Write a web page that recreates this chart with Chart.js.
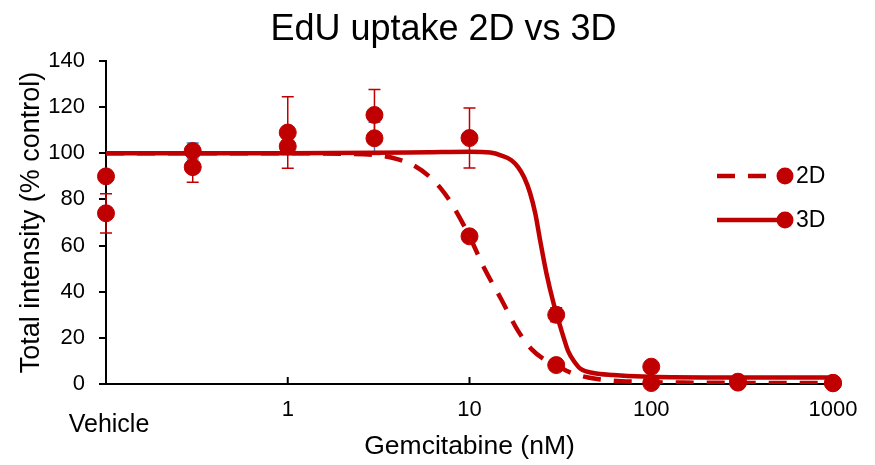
<!DOCTYPE html>
<html><head><meta charset="utf-8">
<script src="https://cdn.jsdelivr.net/npm/chart.js@4"></script>
<style>html,body{margin:0;padding:0;background:#fff}canvas{display:block}</style>
</head><body><canvas id="c" width="875" height="465" style="width:875px;height:465px"></canvas>
<script>
// ---- data ----
const chartTitle = 'EdU uptake 2D vs 3D';
const doses = [0.1, 0.3, 1, 3, 10, 30, 100, 300, 1000];
const xTickValues = [0.1, 1, 10, 100, 1000];
const vehicleLabel = 'Vehicle';
const seriesNames = ['2D', '3D'];
const d2Values = [90, 101, 103, 106.5, 64, 8.2, 0.4, 0.6, 0.3];
const d2Errors = [2, 3.5, 3.5, 7, 2, 1.5, 0.5, 0.5, 0.3];
const d3Values = [74, 94, 109, 116.6, 106.6, 30, 7.5, 1, 0.5];
const d3Errors = [8.5, 6.5, 15.5, 11, 13, 3, 1, 0.5, 0.3];
const fit2dX = [0.1, 1, 2, 3, 4, 5, 6, 7, 8, 10, 12, 15, 18.5, 22, 26, 30, 37, 45, 57, 80, 150, 1000];
const fit2dY = [100, 100, 99.8, 99.3, 97.5, 94.5, 90, 84.5, 78, 64, 50.5, 36.5, 23, 15, 10.5, 8, 4.6, 2.8, 1.7, 1.0, 0.6, 0.4];
const fit3dX = [0.1, 1, 3, 6, 10, 13, 15, 17, 18.5, 20, 21.5, 23, 24.5, 26.5, 29, 31, 33, 35, 37.5, 41, 48, 62, 90, 200, 1000];
const fit3dY = [100, 100, 100.2, 100.5, 100.7, 100.3, 99, 97, 94, 89.5, 83, 74, 62, 48, 35, 27, 20, 14, 10, 6.5, 4.8, 3.9, 3.2, 2.8, 2.8];

const RED = '#C00000';
const BLUE = '#3A80D2';
const FONT = 'Liberation Sans, Arial, sans-serif';
Chart.defaults.font.family = FONT;
Chart.defaults.color = '#000';

const pts = (xs, ys) => xs.map((x, i) => ({x: x, y: ys[i]}));

const extras = {
  id: 'extras',
  beforeDatasetsDraw(chart) {
    const {ctx, scales: {x, y}, chartArea} = chart;
    ctx.save();
    const bars = [[d2Values, d2Errors, BLUE], [d3Values, d3Errors, RED]];
    bars.forEach(([vals, errs, col]) => {
      ctx.strokeStyle = col; ctx.lineWidth = 1.5;
      doses.forEach((d, i) => {
        const px = x.getPixelForValue(d);
        const yt = y.getPixelForValue(vals[i] + errs[i]);
        const yb = y.getPixelForValue(Math.max(0, vals[i] - errs[i]));
        ctx.beginPath();
        ctx.moveTo(px, yt); ctx.lineTo(px, yb);
        ctx.moveTo(px - 6, yt); ctx.lineTo(px + 6, yt);
        ctx.moveTo(px - 6, yb); ctx.lineTo(px + 6, yb);
        ctx.stroke();
      });
    });
    ctx.strokeStyle = '#000'; ctx.lineWidth = 2;
    xTickValues.forEach(v => {
      const px = x.getPixelForValue(v);
      ctx.beginPath(); ctx.moveTo(px, chartArea.bottom); ctx.lineTo(px, chartArea.bottom - 7); ctx.stroke();
    });
    ctx.restore();
  },
  afterDraw(chart) {
    const {ctx, scales: {x}} = chart;
    ctx.save();
    ctx.fillStyle = '#000';
    ctx.textAlign = 'center'; ctx.textBaseline = 'middle';
    ctx.font = '36px ' + FONT;
    ctx.fillText(chartTitle, 443.5, 30);
    ctx.font = '25px ' + FONT;
    ctx.fillText(vehicleLabel, x.getPixelForValue(xTickValues[0]) + 3, 425);
    const rows = [[seriesNames[0], [18, 13], 176], [seriesNames[1], [], 220]];
    rows.forEach(([name, dash, ly]) => {
      ctx.strokeStyle = RED; ctx.lineWidth = 4.5; ctx.setLineDash(dash);
      ctx.beginPath(); ctx.moveTo(717, ly); ctx.lineTo(784, ly); ctx.stroke();
      ctx.setLineDash([]);
      ctx.fillStyle = RED; ctx.beginPath(); ctx.arc(785, ly, 8.5, 0, Math.PI * 2); ctx.fill();
      ctx.fillStyle = '#000'; ctx.font = '23px ' + FONT; ctx.textAlign = 'left'; ctx.textBaseline = 'middle';
      ctx.fillText(name, 796, ly + 1);
    });
    ctx.restore();
  }
};

new Chart(document.getElementById('c'), {
  type: 'scatter',
  data: {
    datasets: [
      {label: seriesNames[0] + ' data', data: pts(doses, d2Values), backgroundColor: RED, borderColor: RED, pointRadius: 8.5, pointHoverRadius: 8.5, showLine: false, clip: false},
      {label: seriesNames[1] + ' data', data: pts(doses, d3Values), backgroundColor: RED, borderColor: RED, pointRadius: 8.5, pointHoverRadius: 8.5, showLine: false, clip: false},
      {label: seriesNames[1] + ' fit', data: pts(fit3dX, fit3dY), showLine: true, borderColor: RED, borderWidth: 4.5, pointRadius: 0, cubicInterpolationMode: 'monotone', fill: false},
      {label: seriesNames[0] + ' fit', data: pts(fit2dX, fit2dY), showLine: true, borderColor: RED, borderWidth: 4.5, borderDash: [18, 13], pointRadius: 0, cubicInterpolationMode: 'monotone', fill: false}
    ]
  },
  options: {
    responsive: false,
    animation: false,
    devicePixelRatio: 1,
    layout: {padding: {left: 0, right: 42, top: 61, bottom: 0}},
    plugins: {
      legend: {display: false},
      tooltip: {enabled: false},
      title: {display: false}
    },
    scales: {
      x: {
        type: 'logarithmic', min: 0.1, max: 1000, position: 'bottom',
        afterBuildTicks: s => { s.ticks = xTickValues.map(v => ({value: v})); },
        afterFit: s => { s.height = 81; },
        ticks: {callback: v => (v < 1 ? '' : String(v)), font: {size: 22}, color: '#000', padding: 13, maxRotation: 0, autoSkip: false},
        grid: {display: false, drawTicks: false},
        border: {display: true, color: '#000', width: 2},
        title: {display: true, text: 'Gemcitabine (nM)', color: '#000', font: {size: 26.5}, padding: {top: 0, bottom: 2}}
      },
      y: {
        min: 0, max: 140,
        afterFit: s => { s.width = 106; },
        ticks: {stepSize: 20, font: {size: 22}, color: '#000', padding: 14},
        grid: {drawOnChartArea: false, drawTicks: true, tickLength: 7, color: '#000', lineWidth: 2},
        border: {display: true, color: '#000', width: 2},
        title: {display: true, text: 'Total intensity (% control)', color: '#000', font: {size: 27}, padding: {top: 15, bottom: 0}}
      }
    }
  },
  plugins: [extras]
});
</script>
</body></html>
